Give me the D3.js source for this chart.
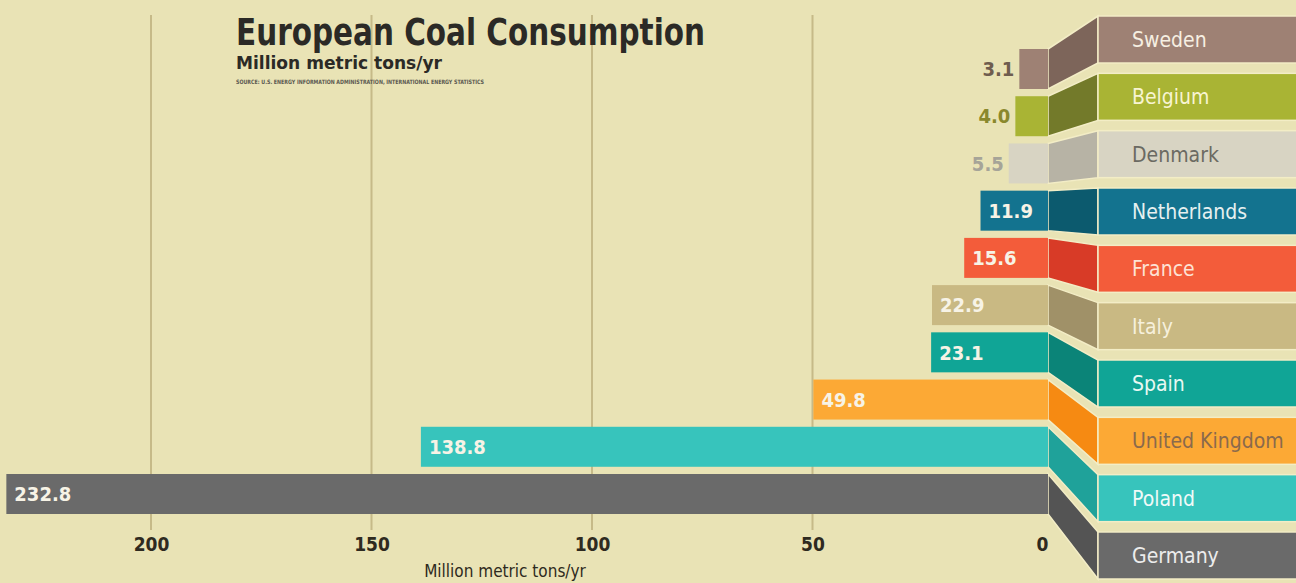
<!DOCTYPE html>
<html>
<head>
<meta charset="utf-8">
<script src="https://cdn.jsdelivr.net/npm/d3@7"></script>
<style>
  body { margin: 0; background: #e9e3b5; overflow: hidden; }
  svg { display: block; }
  text { font-family: "Liberation Sans Narrow", "DejaVu Sans Condensed", Roboto, sans-serif; }
</style>
</head>
<body>
<div id="chart"></div>
<script>
// data, top to bottom
const countries = ['Sweden', 'Belgium', 'Denmark', 'Netherlands', 'France', 'Italy', 'Spain', 'United Kingdom', 'Poland', 'Germany'];
const consumption = [3.1, 4.0, 5.5, 11.9, 15.6, 22.9, 23.1, 49.8, 138.8, 232.8];
const tickValues = [0, 50, 100, 150, 200];

const barColors   = ['#9e8174', '#a9b434', '#d8d4c3', '#13738f', '#f35c3a', '#c9b983', '#10a596', '#fca935', '#37c4bc', '#6a6a6a'];
const foldColors  = ['#7d655a', '#737a2a', '#b7b3a5', '#0c5a6e', '#d83b27', '#a09168', '#0b8478', '#f68a12', '#1fa29a', '#545454'];
const labelInk    = ['#f6efe2', '#f8f4d2', '#6b6a62', '#e6f0f0', '#fde2d4', '#f6f0dc', '#e8f8f2', '#8b6a4c', '#effaf8', '#ececec'];
const valueOutInk = ['#6f5d4e', '#8a882c', '#a6a498'];

const width = 1296, height = 583;

const svg = d3.select('#chart')
  .append('svg')
  .attr('width', width)
  .attr('height', height);

svg.append('rect')
  .attr('width', width)
  .attr('height', height)
  .style('fill', '#e9e3b5');

let x = d3.scaleLinear()
  .domain([0, 200])
  .range([1033, 151]);

// left value bars
let yBar = d3.scaleBand()
  .domain(countries)
  .range([49, 514])
  .paddingInner(0.153);

// right label blocks
let yLab = d3.scaleBand()
  .domain(countries)
  .range([16, 579])
  .paddingInner(0.18);

const barEnd = x(0) + 15;     // bars run a little past zero into the fold
const foldEnd = barEnd + 50;

// grid lines
svg.append('g')
  .selectAll('line')
  .data(tickValues.filter(d => d > 0))
  .enter()
  .append('line')
  .attr('x1', d => x(d))
  .attr('x2', d => x(d))
  .attr('y1', 15)
  .attr('y2', 530)
  .style('stroke', '#c6ba88')
  .style('stroke-width', 2);

let rows = svg.selectAll('.row')
  .data(countries.map((c, i) => ({ name: c, value: consumption[i], i: i })))
  .enter()
  .append('g')
  .classed('row', true);

// fold connecting bar and label block
rows.append('path')
  .attr('d', d => {
    let t0 = yBar(d.name), b0 = t0 + yBar.bandwidth();
    let t1 = yLab(d.name), b1 = t1 + yLab.bandwidth();
    return `M${barEnd},${t0}L${foldEnd},${t1}L${foldEnd},${b1}L${barEnd},${b0}Z`;
  })
  .style('fill', d => foldColors[d.i])
  .style('stroke', '#f3edc6')
  .style('stroke-width', 1.5);

rows.append('rect')
  .attr('x', d => x(d.value))
  .attr('y', d => yBar(d.name))
  .attr('width', d => barEnd - x(d.value))
  .attr('height', yBar.bandwidth())
  .style('fill', d => barColors[d.i]);

rows.append('rect')
  .attr('x', foldEnd)
  .attr('y', d => yLab(d.name))
  .attr('width', width - foldEnd + 2)
  .attr('height', yLab.bandwidth())
  .style('fill', d => barColors[d.i])
  .style('stroke', '#f3edc6')
  .style('stroke-width', 1.5);

rows.append('text')
  .attr('x', foldEnd + 34)
  .attr('y', d => yLab(d.name) + yLab.bandwidth() / 2)
  .attr('dy', '0.36em')
  .style('font-size', '21px')
  .style('fill', d => labelInk[d.i])
  .text(d => d.name);

// value labels: outside for the small ones, inside otherwise
rows.append('text')
  .attr('x', d => d.value < 10 ? x(d.value) - 5 : x(d.value) + 8)
  .attr('y', d => yBar(d.name) + yBar.bandwidth() / 2)
  .attr('dy', '0.36em')
  .attr('text-anchor', d => d.value < 10 ? 'end' : 'start')
  .style('font-size', '20px')
  .style('font-weight', 'bold')
  .style('fill', d => d.value < 10 ? valueOutInk[d.i] : '#f7f3e6')
  .text(d => d.value.toFixed(1));

// axis
let xAxis = d3.axisBottom(x)
  .tickValues(tickValues)
  .tickSize(0)
  .tickPadding(0);

let ax = svg.append('g')
  .classed('xAxis', true)
  .attr('transform', 'translate(0, 537)')
  .call(xAxis);

ax.select('.domain').remove();
ax.selectAll('.tick text')
  .attr('dy', '0.71em')
  .style('font-family', '"Liberation Sans Narrow", "DejaVu Sans Condensed", Roboto, sans-serif')
  .style('font-size', '19px')
  .style('font-weight', 'bold')
  .style('fill', '#2e2a20');
ax.selectAll('.tick')
  .filter(d => d === 0)
  .select('text')
  .attr('x', 9);

svg.append('text')
  .attr('x', 505)
  .attr('y', 577)
  .attr('text-anchor', 'middle')
  .style('font-size', '17px')
  .style('fill', '#2e2a20')
  .text('Million metric tons/yr');

// title block
svg.append('text')
  .attr('x', 236)
  .attr('y', 45)
  .attr('textLength', 469)
  .attr('lengthAdjust', 'spacingAndGlyphs')
  .style('font-size', '38px')
  .style('font-weight', 'bold')
  .style('fill', '#2b2a26')
  .text('European Coal Consumption');

svg.append('text')
  .attr('x', 236)
  .attr('y', 69)
  .attr('textLength', 206)
  .attr('lengthAdjust', 'spacingAndGlyphs')
  .style('font-size', '18px')
  .style('font-weight', 'bold')
  .style('fill', '#2b2a26')
  .text('Million metric tons/yr');

svg.append('text')
  .attr('x', 236)
  .attr('y', 84)
  .attr('textLength', 248)
  .attr('lengthAdjust', 'spacingAndGlyphs')
  .style('font-size', '6px')
  .style('font-weight', 'bold')
  .style('fill', '#5a5850')
  .text('SOURCE: U.S. ENERGY INFORMATION ADMINISTRATION, INTERNATIONAL ENERGY STATISTICS');
</script>
</body>
</html>
